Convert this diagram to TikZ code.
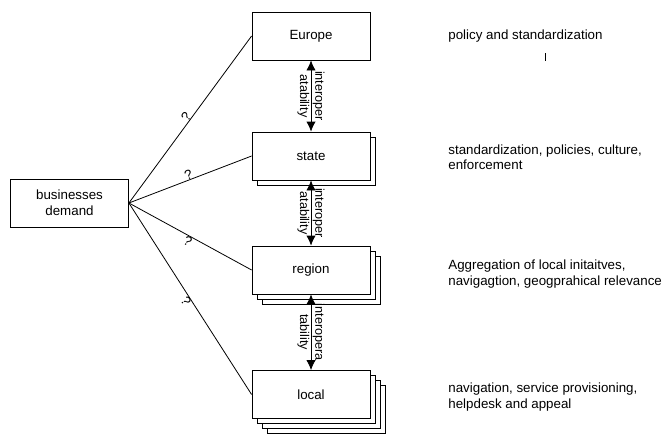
\documentclass[tikz,border=0pt]{standalone}
\usepackage{fontspec}
\setmainfont{Liberation Sans}
\usetikzlibrary{arrows.meta}
\begin{document}
\begin{tikzpicture}[x=0.75pt,y=-0.75pt, line width=0.6pt,
  box/.style={draw, fill=white, minimum width=88.5pt, minimum height=36pt, inner sep=0pt, align=center, font=\fontsize{10}{12}\selectfont},
  biarrow/.style={{Latex[length=7.5pt,width=7pt]}-{Latex[length=7.5pt,width=7pt]}},
  ilabel/.style={midway, rotate=-90, align=center, inner sep=0pt, font=\fontsize{9.5}{11.5}\selectfont},
  qlabel/.style={pos=0.5, sloped, inner sep=0pt, font=\fontsize{10}{12}\selectfont},
  desc/.style={anchor=west, align=left, inner sep=0pt, font=\fontsize{10}{11.5}\selectfont}
]
\useasboundingbox (0,0) rectangle (663,437);

% business demand
\node[box] (bd) at (69.5,203) {businesses\\demand};

% Europe
\node[box] (europe) at (311,36) {Europe};

% state with one copy
\node[box] (state1) at (316,161) {};
\node[box] (state) at (311,156) {state};

% region with two copies
\node[box] (region2) at (321,280) {};
\node[box] (region1) at (316,275) {};
\node[box] (region) at (311,270) {region};

% local with three copies
\node[box] (local3) at (326,409.5) {};
\node[box] (local2) at (321,404.5) {};
\node[box] (local1) at (316,399.5) {};
\node[box] (local) at (311,394.5) {local};

% interoperability arrows
\draw[biarrow] (europe.south) -- node[ilabel] {interoper\\atability} (state.north);
\draw[biarrow] (state.south) -- node[ilabel] {interoper\\atability} (region.north);
\draw[biarrow] (region.south) -- node[ilabel] {interopera\\tability} (local.north);

% demand lines
\draw (bd.east) -- node[qlabel, above] {?} (europe.west);
\draw (bd.east) -- node[qlabel, above] {?} (state.west);
\draw (bd.east) -- node[qlabel, below] {?} (region.west);
\draw (bd.east) -- node[qlabel, below] {?} (local.west);

% descriptions
\node[desc] (d1) at (448,36) {policy and standardization};
\node[desc] (d2) at (448,157) {standardization, policies, culture,\\enforcement};
\node[desc] (d3) at (448,274) {Aggregation of local initaitves,\\navigagtion, geogprahical relevance};
\node[desc] (d4) at (448,397) {navigation, service provisioning,\\helpdesk and appeal};

% small tick mark
\coordinate (t1) at (545,53);
\coordinate (t2) at (545,61);
\draw (t1) -- (t2);
\end{tikzpicture}
\end{document}
